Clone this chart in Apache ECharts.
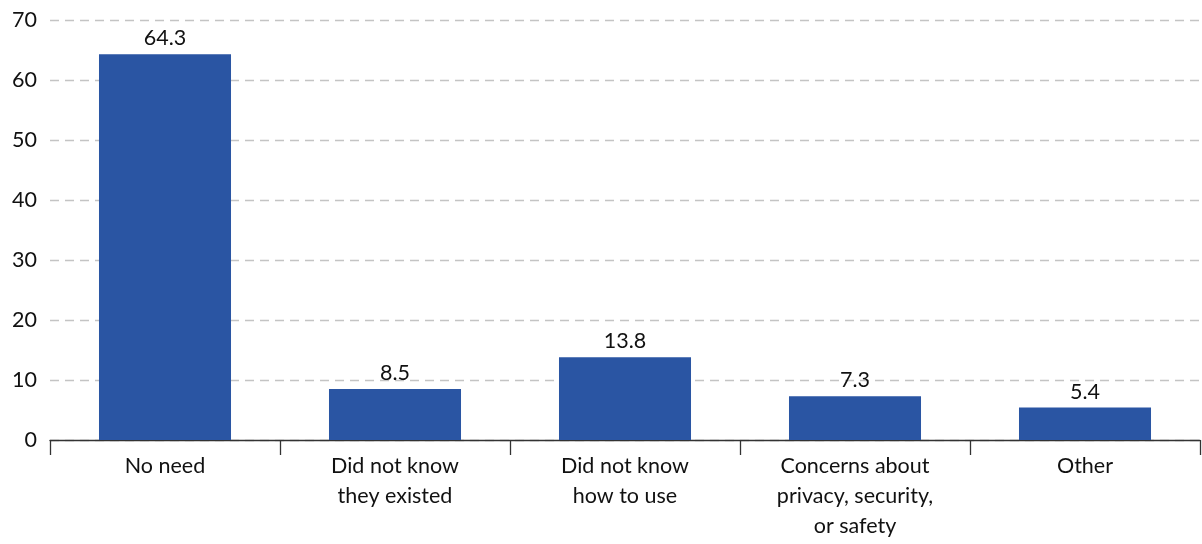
<!DOCTYPE html>
<html>
<head>
<meta charset="utf-8">
<script src="https://cdn.jsdelivr.net/npm/echarts@6/dist/echarts.min.js"></script>
<style>
  html, body { margin: 0; padding: 0; background: #fff; }
  #chart { width: 1202px; height: 544px; }
</style>
</head>
<body>
<div id="chart"></div>
<script>
// Reasons for not using the services (percent of respondents)
const categories = [
  'No need',
  'Did not know\nthey existed',
  'Did not know\nhow to use',
  'Concerns about\nprivacy, security,\nor safety',
  'Other'
];
const values = [64.3, 8.5, 13.8, 7.3, 5.4];
const yTicks = { min: 0, max: 70, interval: 10 };

const FONT = 'Lato, "Noto Sans", sans-serif';
const chart = echarts.init(document.getElementById('chart'), null, { renderer: 'canvas' });

chart.setOption({
  animation: false,
  grid: { left: 50, right: 2, top: 20, bottom: 104, containLabel: false },
  xAxis: {
    type: 'category',
    data: categories,
    axisLine: { show: true, lineStyle: { color: '#333', width: 1.3 } },
    axisTick: { show: true, length: 15, alignWithLabel: false, lineStyle: { color: '#333', width: 1.3 } },
    axisLabel: {
      color: '#111', fontFamily: FONT, fontSize: 21.5, lineHeight: 30,
      margin: 11, interval: 0
    }
  },
  yAxis: {
    type: 'value',
    min: yTicks.min, max: yTicks.max, interval: yTicks.interval,
    axisLine: { show: false },
    axisTick: { show: false },
    axisLabel: { color: '#111', fontFamily: FONT, fontSize: 21.5, margin: 13 },
    splitLine: { show: true, lineStyle: { color: '#c4c4c4', type: [9, 6], width: 1.3 } }
  },
  series: [{
    type: 'bar',
    data: values,
    barCategoryGap: '42.6%',
    itemStyle: { color: '#2A55A3' },
    label: {
      show: true, position: 'top', distance: 5,
      color: '#111', fontFamily: FONT, fontSize: 21.5,
      formatter: p => p.value.toFixed(1)
    }
  }]
});
</script>
</body>
</html>
